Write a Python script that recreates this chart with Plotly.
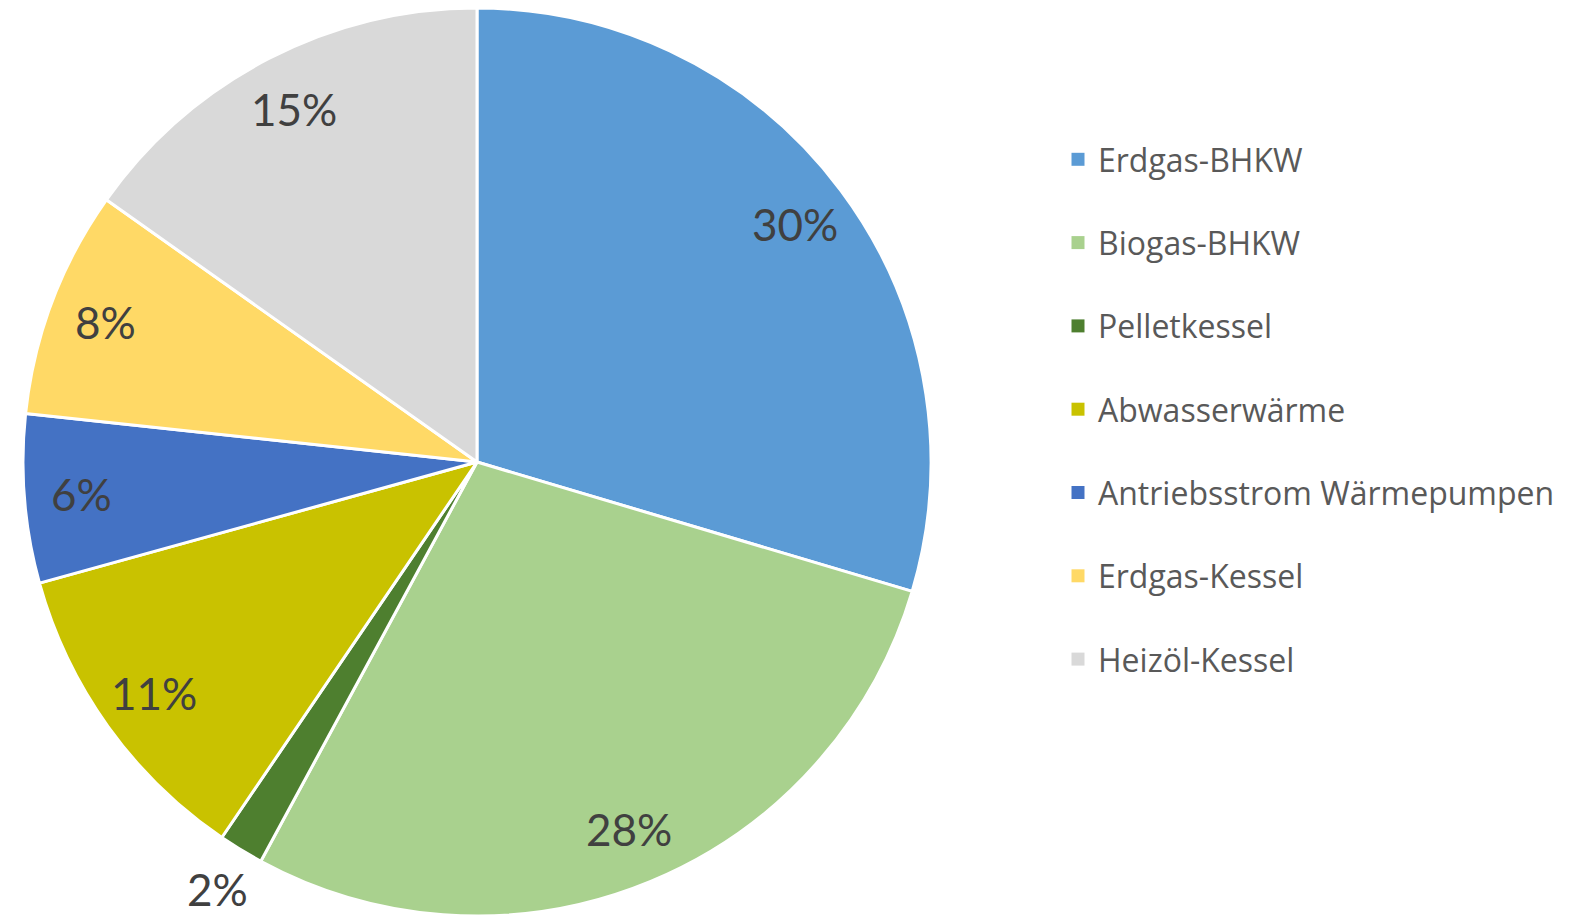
import math
import plotly.graph_objects as go

# ---- data ----
labels = ["Erdgas-BHKW", "Biogas-BHKW", "Pelletkessel", "Abwasserwärme",
          "Antriebsstrom Wärmepumpen", "Erdgas-Kessel", "Heizöl-Kessel"]
values = [29.6, 28.3, 1.6, 11.2, 6.0, 8.1, 15.2]
colors = ["#5B9BD5", "#A9D18E", "#4E7F2F", "#C9C200",
          "#4472C4", "#FFD966", "#D9D9D9"]

# figure size (page body has an 8px margin)
W, H = 1572, 910
CX, CY, R = 469, 454, 454  # pie centre/radius in figure pixels

fig = go.Figure()
fig.add_trace(go.Pie(
    labels=labels, values=values, sort=False, direction="clockwise", rotation=0,
    marker=dict(colors=colors, line=dict(color="white", width=3)),
    textinfo="none", showlegend=False, hoverinfo="label+percent",
    domain=dict(x=[(CX - R) / W, (CX + R) / W],
                y=[max(0, 1 - (CY + R) / H), min(1, 1 - (CY - R) / H)]),
))

# legend entries
for lab, col in zip(labels, colors):
    fig.add_trace(go.Scatter(
        x=[None], y=[None], mode="markers", name=lab, legendgroup=lab,
        marker=dict(symbol="square", size=13, color=col),
    ))

# percentage labels computed from the data
total = sum(values)
cum = 0.0
annotations = []
for v in values:
    frac = v / total
    mid = (cum + frac / 2) * 2 * math.pi
    cum += frac
    f = 0.875 if frac >= 0.03 else 1.10
    px = CX + R * f * math.sin(mid)
    py = CY - R * f * math.cos(mid)
    annotations.append(dict(
        x=px / W, y=1 - py / H, xref="paper", yref="paper",
        text=f"{round(frac * 100):.0f}%", showarrow=False,
        font=dict(family="Lato", size=44, color="#404040"),
        xanchor="center", yanchor="middle", borderpad=0,
    ))

fig.update_layout(
    width=W, height=H,
    margin=dict(l=0, r=0, t=0, b=0),
    paper_bgcolor="white", plot_bgcolor="white",
    xaxis=dict(visible=False), yaxis=dict(visible=False),
    annotations=annotations,
    legend=dict(
        x=1050 / W, y=1 - 124 / H, xanchor="left", yanchor="top",
        font=dict(family="Open Sans", size=32, color="#595959"),
        tracegroupgap=38.7, itemsizing="trace", bgcolor="rgba(0,0,0,0)",
    ),
)

fig.write_html("out.html")
